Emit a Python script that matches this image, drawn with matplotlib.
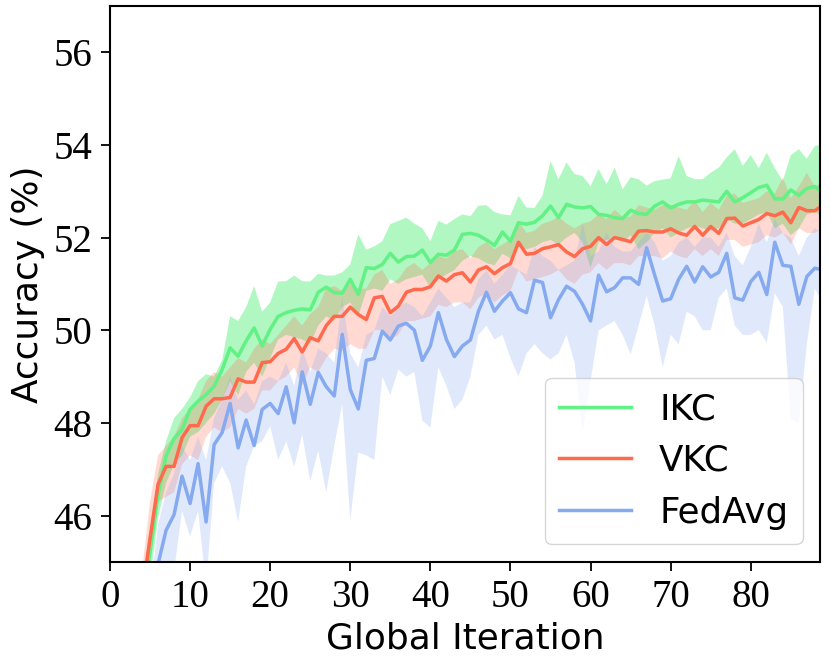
import numpy as np
import matplotlib
matplotlib.use("Agg")
import matplotlib.pyplot as plt

# global iteration index
iters = list(range(90))

# IKC mean accuracy and band
ikc = [12.0, 28.0, 36.5, 41.5, 44.1, 45.2, 46.45, 47.28, 47.66, 47.86,
       48.29, 48.47, 48.61, 48.79, 49.15, 49.62, 49.44, 49.77, 50.05, 49.66,
       50.02, 50.30, 50.38, 50.43, 50.46, 50.44, 50.82, 50.93, 50.81, 50.80,
       51.10, 50.77, 51.35, 51.33, 51.42, 51.66, 51.47, 51.59, 51.60, 51.73,
       51.46, 51.64, 51.62, 51.73, 52.07, 52.09, 52.05, 51.95, 51.83, 52.12,
       51.92, 52.32, 52.29, 52.33, 52.47, 52.68, 52.43, 52.72, 52.66, 52.64,
       52.67, 52.50, 52.48, 52.43, 52.41, 52.59, 52.52, 52.50, 52.68, 52.77,
       52.64, 52.72, 52.77, 52.77, 52.81, 52.79, 52.77, 53.00, 52.77, 52.86,
       52.97, 53.08, 53.13, 52.84, 52.83, 53.03, 52.91, 53.06, 53.10, 52.98]
ikc_hi = [12.5, 28.5, 37.0, 42.0, 44.6, 45.7, 46.9, 47.6, 48.1, 48.3,
          48.55, 48.9, 49.05, 49.0, 49.35, 50.3, 50.2, 50.5, 50.95, 50.4,
          50.6, 51.05, 51.06, 51.18, 51.06, 51.05, 51.22, 51.18, 51.18, 51.25,
          51.42, 52.07, 51.74, 51.81, 51.92, 52.29, 52.36, 52.43, 52.30, 52.20,
          51.92, 52.36, 52.28, 52.40, 52.50, 52.46, 52.69, 52.70, 52.55, 52.50,
          52.48, 52.90, 52.65, 52.64, 52.90, 53.65, 53.26, 53.62, 53.37, 53.33,
          53.11, 53.48, 53.15, 53.51, 53.04, 53.30, 53.26, 53.12, 53.22, 53.25,
          53.28, 53.76, 53.33, 53.26, 53.26, 53.40, 53.51, 53.73, 53.91, 53.55,
          53.78, 53.50, 53.83, 53.50, 53.22, 53.78, 53.91, 53.70, 53.98, 54.00]
ikc_lo = [11.5, 27.5, 36.0, 41.0, 43.6, 44.6, 45.95, 46.7, 47.1, 47.3,
          47.7, 47.8, 48.0, 48.2, 48.5, 48.9, 48.6, 49.1, 49.3, 49.0,
          49.4, 49.8, 49.9, 49.85, 49.8, 49.7, 50.1, 50.3, 50.2, 50.5,
          50.6, 50.3, 50.85, 50.9, 50.85, 51.1, 51.0, 51.1, 51.15, 51.2,
          50.92, 51.1, 51.2, 51.3, 51.5, 51.6, 51.55, 51.45, 51.4, 51.65,
          51.55, 51.8, 51.75, 51.8, 51.9, 51.95, 51.85, 52.0, 52.1, 51.9,
          51.35, 51.9, 51.95, 52.0, 51.9, 52.05, 51.75, 51.9, 52.1, 52.2,
          52.0, 52.1, 52.2, 52.25, 52.2, 52.15, 52.2, 52.4, 52.3, 52.3,
          52.4, 52.5, 52.55, 52.2, 52.3, 52.05, 52.2, 52.5, 52.55, 52.45]

# VKC mean accuracy and band
vkc = [12.5, 29.0, 37.0, 42.0, 44.3, 45.5, 46.67, 47.06, 47.06, 47.68,
       47.94, 47.94, 48.36, 48.52, 48.52, 48.55, 48.95, 48.88, 48.88, 49.30,
       49.32, 49.50, 49.59, 49.82, 49.53, 49.84, 49.77, 50.10, 50.30, 50.30,
       50.50, 50.34, 50.23, 50.70, 50.73, 50.38, 50.52, 50.82, 50.88, 50.88,
       50.94, 51.17, 51.06, 51.20, 51.24, 51.04, 51.30, 51.37, 51.22, 51.35,
       51.44, 51.90, 51.64, 51.66, 51.76, 51.80, 51.85, 51.69, 51.59, 51.76,
       51.81, 52.00, 51.85, 52.00, 51.96, 51.91, 52.14, 52.15, 52.12, 52.12,
       52.19, 52.10, 52.05, 52.24, 52.05, 52.24, 52.09, 52.41, 52.42, 52.25,
       52.32, 52.39, 52.52, 52.47, 52.55, 52.32, 52.65, 52.58, 52.58, 52.70]
vkc_hi = [13.0, 29.5, 37.5, 42.5, 44.8, 46.3, 47.3, 47.5, 47.7, 48.1,
          48.3, 48.5, 48.9, 49.1, 49.0, 49.2, 49.4, 49.3, 49.6, 49.8,
          49.7, 49.9, 50.1, 50.3, 50.1, 50.35, 50.5, 50.9, 50.95, 50.85,
          51.0, 50.9, 50.9, 51.2, 51.3, 51.0, 51.1, 51.35, 51.45, 51.3,
          51.45, 51.6, 51.55, 51.7, 51.75, 51.55, 51.8, 51.9, 51.75, 51.85,
          51.95, 52.35, 52.1, 52.15, 52.3, 52.35, 52.45, 52.3, 52.2, 52.3,
          52.35, 52.5, 52.4, 52.6, 52.45, 52.45, 52.7, 52.65, 52.6, 52.7,
          52.7, 52.65, 52.6, 52.8, 52.55, 52.75, 52.6, 52.9, 52.95, 52.75,
          52.8, 52.85, 53.0, 52.95, 53.3, 52.85, 53.1, 53.4, 53.1, 53.2]
vkc_lo = [12.0, 28.5, 36.5, 41.5, 43.8, 45.0, 46.3, 46.4, 46.5, 47.1,
          47.3, 47.2, 47.7, 47.9, 47.8, 47.9, 48.3, 48.2, 48.3, 48.7,
          48.7, 48.9, 49.0, 49.2, 48.8, 49.2, 49.1, 49.4, 49.6, 49.55,
          49.7, 49.6, 49.6, 50.0, 50.0, 49.8, 49.9, 50.2, 50.2, 50.25,
          50.3, 50.55, 50.5, 50.6, 50.6, 50.45, 50.7, 50.8, 50.6, 50.75,
          50.85, 51.3, 51.05, 51.1, 51.15, 51.2, 51.3, 51.1, 51.0, 51.2,
          51.25, 51.45, 51.3, 51.45, 51.45, 51.4, 51.6, 51.6, 51.6, 51.55,
          51.7, 51.6, 51.55, 51.75, 51.6, 51.75, 51.6, 51.95, 51.95, 51.8,
          51.85, 51.9, 52.05, 52.0, 52.1, 51.85, 52.2, 52.1, 52.1, 52.2]

# FedAvg mean accuracy and band
fedavg = [10.0, 22.0, 31.0, 38.0, 41.5, 43.8, 44.95, 45.68, 46.02, 46.85,
          46.26, 47.12, 45.86, 47.53, 47.79, 48.42, 47.46, 48.06, 47.51, 48.29,
          48.42, 48.20, 48.78, 48.00, 49.10, 48.40, 49.09, 48.78, 48.58, 49.91,
          48.72, 48.30, 49.35, 49.39, 49.98, 49.79, 50.09, 50.15, 50.00, 49.35,
          49.66, 50.38, 49.80, 49.43, 49.66, 49.79, 50.41, 50.82, 50.41, 50.63,
          50.81, 50.46, 50.38, 51.08, 51.03, 50.27, 50.66, 50.95, 50.84, 50.56,
          50.20, 51.19, 50.83, 50.92, 51.13, 51.13, 50.99, 51.78, 51.19, 50.63,
          50.68, 51.10, 51.38, 51.04, 51.37, 51.15, 51.25, 51.66, 50.70, 50.65,
          51.05, 51.25, 50.77, 51.90, 51.40, 51.38, 50.56, 51.16, 51.34, 51.30]
fedavg_hi = [10.5, 22.5, 31.5, 38.5, 42.0, 44.3, 45.8, 46.5, 46.9, 47.5,
             47.2, 47.7, 47.2, 48.1, 48.5, 49.0, 48.5, 48.7, 48.4, 48.9,
             49.0, 48.9, 49.3, 48.8, 49.6, 49.1, 49.6, 49.5, 49.3, 50.7,
             49.5, 49.2, 49.9, 50.0, 50.5, 50.3, 50.5, 50.6, 50.5, 50.3,
             50.6, 50.9, 50.7, 50.5, 50.6, 50.6, 51.1, 51.3, 51.0, 51.2,
             51.4, 51.3, 51.2, 51.8, 51.6, 51.5, 51.3, 51.4, 51.5, 52.3,
             51.6, 51.7, 52.1, 51.8, 51.7, 51.7, 51.9, 52.1, 51.9, 51.5,
             51.6, 51.9, 52.0, 51.8, 52.0, 52.0, 51.8, 52.1, 51.6, 51.4,
             51.8, 52.3, 51.9, 52.4, 52.1, 52.0, 51.6, 52.0, 52.2, 52.1]
fedavg_lo = [8.0, 20.0, 29.0, 36.0, 39.5, 42.0, 43.0, 44.5, 44.8, 46.1,
             45.55, 46.1, 44.5, 46.7, 47.06, 46.71, 45.85, 47.06, 47.5, 47.6,
             47.93, 47.2, 47.6, 47.05, 47.75, 46.74, 47.4, 46.5, 47.5, 48.4,
             45.9, 47.36, 47.3, 47.2, 49.0, 48.6, 49.15, 49.0, 49.1, 48.05,
             47.9, 49.2, 48.8, 48.3, 48.5, 49.0, 49.9, 50.1, 49.8, 49.9,
             49.4, 49.0, 49.5, 49.7, 49.5, 49.37, 49.5, 49.9, 49.3, 47.8,
             48.9, 50.0, 50.1, 50.2, 49.9, 49.48, 50.1, 50.74, 50.1, 49.2,
             49.9, 49.7, 50.4, 50.3, 50.0, 50.0, 50.7, 50.9, 50.1, 49.9,
             49.9, 50.0, 49.73, 50.8, 50.5, 48.07, 48.0, 49.7, 50.9, 50.6]

fig = plt.figure(figsize=(8.3, 6.61), dpi=100)
ax = fig.add_axes([0.1325, 0.150, 0.856, 0.841])

# (label, mean, low, high, line colour, band alpha)
series = [
    ("IKC", ikc, ikc_lo, ikc_hi, "#62f184", 0.5),
    ("VKC", vkc, vkc_lo, vkc_hi, "#ff6a4d", 0.25),
    ("FedAvg", fedavg, fedavg_lo, fedavg_hi, "#86aaf0", 0.25),
]

for label, mean, lo, hi, color, alpha in series:
    ax.plot(iters, mean, color=color, linewidth=2.5, label=label)
    ax.fill_between(iters, lo, hi, color=color, alpha=alpha, linewidth=0)

ax.set_xlim(0, 88.7)
ax.set_ylim(45, 57)
ax.set_xticks(range(0, 81, 10))
ax.set_yticks(range(46, 57, 2))

for lbl in ax.get_xticklabels() + ax.get_yticklabels():
    lbl.set_family("Liberation Serif")
    lbl.set_fontsize(28)
ax.tick_params(axis="both", length=6.5, width=1.3, pad=6)
for sp in ax.spines.values():
    sp.set_linewidth(1.5)

ax.set_xlabel("Global Iteration", fontsize=25.8, labelpad=4)
ax.set_ylabel("Accuracy (%)", fontsize=25.8, labelpad=6)

ax.legend(loc="lower right", fontsize=25.7)

fig.savefig("out.png", dpi=100)
